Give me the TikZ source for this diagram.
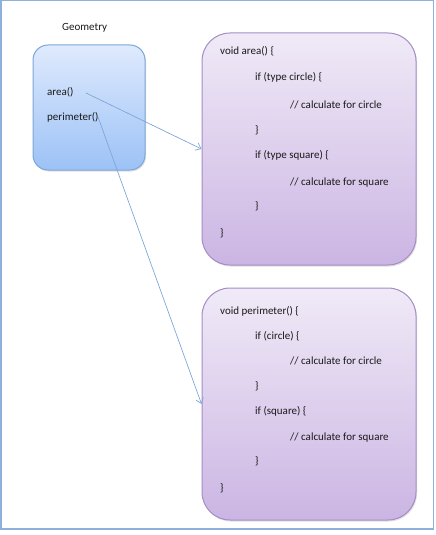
\documentclass[tikz,border=0pt]{standalone}
\usepackage{fontspec}
\setmainfont{Carlito}
\usetikzlibrary{arrows.meta,shadows}
\definecolor{frameblue}{HTML}{8FB0DA}
\definecolor{bluetop}{HTML}{DFEAFD}
\definecolor{bluebot}{HTML}{9CC2F6}
\definecolor{blueedge}{HTML}{7EA6D8}
\definecolor{purtop}{HTML}{F0EAF7}
\definecolor{purbot}{HTML}{CBB5E3}
\definecolor{puredge}{HTML}{A58CC6}
\definecolor{arrowblue}{HTML}{7FA7D9}
\tikzset{
  classbox/.style={draw=blueedge, line width=1pt, rounded corners=15pt,
    top color=bluetop, bottom color=bluebot, minimum width=112pt, minimum height=125pt,
    drop shadow={shadow xshift=1pt, shadow yshift=-1.5pt, opacity=0.25}},
  codebox/.style={draw=puredge, line width=1pt, rounded corners=28pt,
    top color=purtop, bottom color=purbot, minimum width=214pt, minimum height=232pt,
    drop shadow={shadow xshift=1pt, shadow yshift=-1.5pt, opacity=0.25}},
  txt/.style={font=\fontsize{11pt}{13pt}\selectfont, text=black!90, inner sep=0pt, anchor=base west},
  link/.style={draw=arrowblue, line width=0.7pt, -{Straight Barb[length=5pt,width=8pt]}}
}
\begin{document}
\begin{tikzpicture}[x=1pt,y=-1pt]
\useasboundingbox (0,0) rectangle (436,535);
\draw[frameblue, line width=1.3pt] (1,0.7) rectangle (433.5,529);
\node[txt] (title) at (62,31) {Geometry};
\node[classbox] (geo) at (89,107.5) {};
\node[codebox] (box1) at (309,149) {};
\node[codebox] (box2) at (309,404) {};
\node[txt] (area) at (47,95) {area()};
\node[txt] (perim) at (47,120) {perimeter()};
% box 1 code
\node[txt] (l11) at (220,55) {void area() \{};
\node[txt] (l12) at (255,81) {if (type circle) \{};
\node[txt] (l13) at (290,108) {// calculate for circle};
\node[txt] (l14) at (255,133) {\}};
\node[txt] (l15) at (255,158) {if (type square) \{};
\node[txt] (l16) at (290,185) {// calculate for square};
\node[txt] (l17) at (255,209) {\}};
\node[txt] (l18) at (220,236) {\}};
% box 2 code
\node[txt] (l21) at (220,314) {void perimeter() \{};
\node[txt] (l22) at (255,339) {if (circle) \{};
\node[txt] (l23) at (290,364) {// calculate for circle};
\node[txt] (l24) at (255,389) {\}};
\node[txt] (l25) at (255,414) {if (square) \{};
\node[txt] (l26) at (290,440) {// calculate for square};
\node[txt] (l27) at (255,464) {\}};
\node[txt] (l28) at (220,491) {\}};
\coordinate (a1) at (86,93);
\coordinate (p1) at (98,117);
\draw[link] (a1) -- (box1.west);
\draw[link] (p1) -- (box2.west);
\end{tikzpicture}
\end{document}
